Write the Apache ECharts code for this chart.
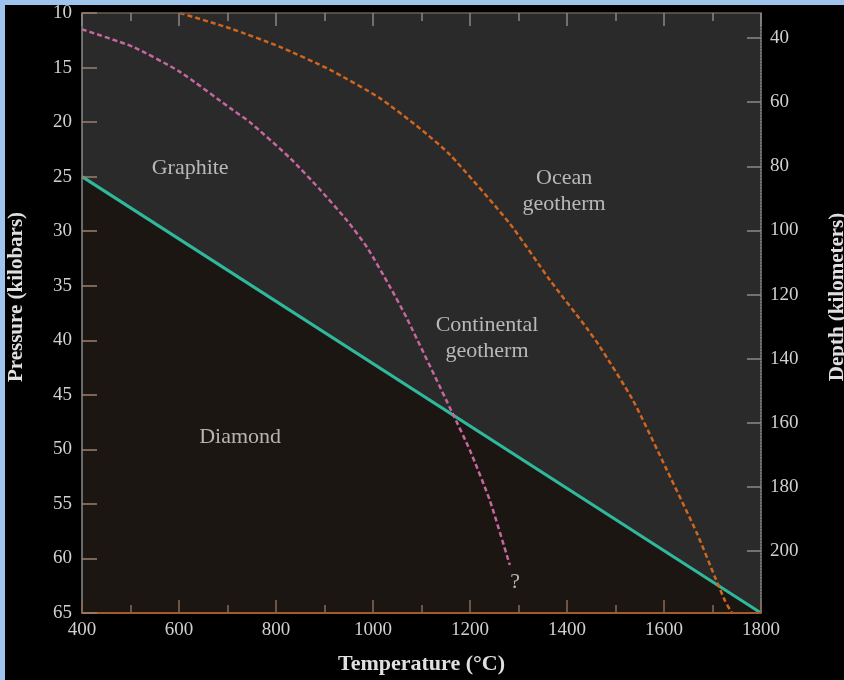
<!DOCTYPE html>
<html>
<head>
<meta charset="utf-8">
<style>
html,body{margin:0;padding:0;background:#000;}
#chart{width:844px;height:680px;}
</style>
<script src="https://cdn.jsdelivr.net/npm/echarts@6/dist/echarts.min.js"></script>
</head>
<body>
<div id="chart"></div>
<script>
// ---- data ----
const temperatureTicks = [400, 600, 800, 1000, 1200, 1400, 1600, 1800];
const pressureTicks = [10, 15, 20, 25, 30, 35, 40, 45, 50, 55, 60, 65];
const depthTicks = [40, 60, 80, 100, 120, 140, 160, 180, 200];

const boundaryT = [400, 1800];
const boundaryP = [25, 65];

const continentalT = [400, 505, 602, 711, 746, 829, 891, 946, 988, 1035, 1070, 1163, 1200, 1241, 1282];
const continentalP = [11.5, 13.1, 15.4, 18.9, 20.0, 23.3, 26.2, 29.0, 31.5, 35.1, 38.0, 46.6, 50.1, 54.7, 60.6];

const oceanT = [602, 705, 808, 911, 1014, 1097, 1159, 1282, 1365, 1441, 1468, 1536, 1606, 1668, 1705, 1726, 1740];
const oceanP = [10.0, 11.4, 13.1, 15.2, 17.8, 20.6, 23.0, 29.3, 34.5, 38.9, 40.6, 45.5, 51.9, 57.7, 61.7, 63.9, 65.0];

const labelTexts = ['Graphite', 'Ocean\ngeotherm', 'Continental\ngeotherm', 'Diamond', '?'];
const labelT = [623, 1394, 1235, 726, 1293];
const labelP = [24.2, 26.3, 39.8, 48.9, 62.2];

// depth axis range matching pressure 10..65 kbar
const depthMin = 32.2, depthMax = 219.3;

const zip = (a, b) => a.map((v, i) => [v, b[i]]);
const FONT = '"Liberation Serif", "DejaVu Serif", serif';
const plain = v => String(v);

const chart = echarts.init(document.getElementById('chart'), null, {renderer: 'canvas'});
chart.setOption({
  backgroundColor: '#000',
  animation: false,
  graphic: [
    {type: 'rect', shape: {x: 0, y: 0, width: 844, height: 5}, style: {fill: '#9ec4ec'}, z: 100},
    {type: 'rect', shape: {x: 0, y: 0, width: 5, height: 680}, style: {fill: '#9ec4ec'}, z: 100}
  ],
  grid: {left: 82, right: 83, top: 13, bottom: 67, show: true, backgroundColor: '#2a2a2a', borderWidth: 0,
    outerBoundsMode: 'none', containLabel: false},
  xAxis: [
    {
      type: 'value', min: 400, max: 1800, interval: 200, position: 'bottom', z: 10,
      name: 'Temperature (°C)', nameLocation: 'middle', nameGap: 40,
      nameTextStyle: {color: '#e0e0e0', fontFamily: FONT, fontSize: 22, fontWeight: 'bold'},
      axisLine: {show: true, lineStyle: {color: '#a35a2e', width: 2}},
      axisTick: {show: true, inside: true, length: 13, lineStyle: {color: '#8a6a55', width: 1.5}},
      minorTick: {show: true, splitNumber: 2, length: 8, lineStyle: {color: '#8a6a55', width: 1.5}},
      axisLabel: {color: '#d0d0d0', fontFamily: FONT, fontSize: 19, margin: 8, formatter: plain},
      splitLine: {show: false}
    },
    {
      type: 'value', min: 400, max: 1800, interval: 200, position: 'top', z: 10,
      axisLine: {show: true, lineStyle: {color: '#6b5d52', width: 1.5}},
      axisTick: {show: true, inside: true, length: 13, lineStyle: {color: '#888', width: 1.5}},
      minorTick: {show: true, splitNumber: 2, length: 8, lineStyle: {color: '#888', width: 1.5}},
      axisLabel: {show: false},
      splitLine: {show: false}
    }
  ],
  yAxis: [
    {
      type: 'value', min: 10, max: 65, interval: 5, inverse: true, position: 'left', z: 10,
      name: 'Pressure (kilobars)', nameLocation: 'middle', nameGap: 55,
      nameTextStyle: {color: '#e0e0e0', fontFamily: FONT, fontSize: 21, fontWeight: 'bold', padding: [0, 0, 0, 32]},
      axisLine: {show: true, lineStyle: {color: '#8a8a8a', width: 1.5}},
      axisTick: {show: true, inside: true, length: 15, lineStyle: {color: '#9a8070', width: 1.5}},
      axisLabel: {color: '#d0d0d0', fontFamily: FONT, fontSize: 19, margin: 10, formatter: plain},
      splitLine: {show: false}
    },
    {
      type: 'value', min: depthMin, max: depthMax, inverse: true, position: 'right', z: 10,
      name: 'Depth (kilometers)', nameLocation: 'middle', nameGap: 66, nameRotate: 90,
      nameTextStyle: {color: '#e0e0e0', fontFamily: FONT, fontSize: 21, fontWeight: 'bold', padding: [0, 0, 0, 32]},
      axisLine: {show: true, lineStyle: {color: '#8a8a8a', width: 1.5, type: [2, 1]}},
      axisTick: {show: true, inside: true, length: 14, customValues: depthTicks, lineStyle: {color: '#8a8a8a', width: 1.5}},
      axisLabel: {color: '#d0d0d0', fontFamily: FONT, fontSize: 19, margin: 9, customValues: depthTicks, formatter: plain},
      splitLine: {show: false}
    }
  ],
  series: [
    {
      name: 'Graphite-diamond boundary', type: 'line', xAxisIndex: 0, yAxisIndex: 0,
      data: zip(boundaryT, boundaryP), symbol: 'none',
      lineStyle: {color: '#2fb89c', width: 3},
      areaStyle: {origin: 'end', color: '#1b1612', opacity: 1},
      z: 2
    },
    {
      name: 'Continental geotherm', type: 'line', xAxisIndex: 0, yAxisIndex: 0,
      data: zip(continentalT, continentalP), symbol: 'none', smooth: 0.2,
      lineStyle: {color: '#c8679f', width: 2.5, type: [5, 3]},
      z: 3
    },
    {
      name: 'Ocean geotherm', type: 'line', xAxisIndex: 0, yAxisIndex: 0,
      data: zip(oceanT, oceanP), symbol: 'none', smooth: 0.2,
      lineStyle: {color: '#d0651f', width: 2.5, type: [5, 3]},
      z: 3
    },
    {
      name: 'labels', type: 'scatter', xAxisIndex: 0, yAxisIndex: 0,
      symbolSize: 0, silent: true,
      data: labelTexts.map((t, i) => ({name: t, value: [labelT[i], labelP[i]]})),
      label: {
        show: true, position: 'inside', formatter: p => p.name,
        color: '#dcdcdc', fontFamily: FONT, fontSize: 22, lineHeight: 26, align: 'center'
      },
      z: 5
    }
  ]
});
</script>
</body>
</html>
